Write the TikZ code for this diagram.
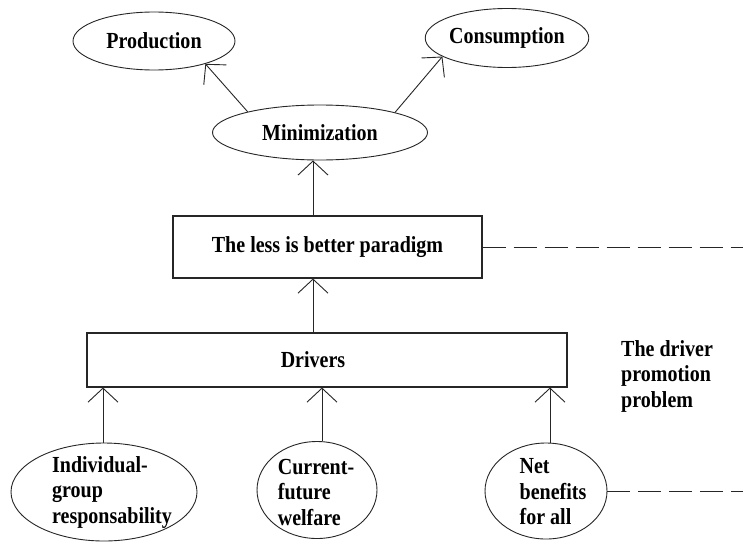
\documentclass[tikz,border=0pt]{standalone}
\usepackage{fontspec}
\setmainfont{Liberation Serif}[FakeStretch=0.87]
\usetikzlibrary{shapes.geometric,arrows.meta}
\begin{document}
\begin{tikzpicture}[x=1pt,y=-1pt,
  every node/.style={font=\fontsize{23}{25.5}\selectfont\bfseries, text=black},
  ell/.style={draw=black!85, line width=0.9pt, ellipse, inner sep=0pt},
  box/.style={draw=black!85, line width=1.1pt, rectangle, inner sep=0pt},
  arr/.style={draw=black!85, line width=0.9pt, -{Straight Barb[length=14pt,width=30pt]}},
  dsh/.style={draw=black!85, line width=1pt, dash pattern=on 23pt off 8pt},
  lbl/.style={align=left, inner sep=0pt}]
\useasboundingbox[fill=white] (0,0) rectangle (743,541);

\node[ell, minimum width=162pt, minimum height=58pt] (prod) at (154,41) {Production};
\node[ell, minimum width=151pt, minimum height=59pt] (cons) at (507,38) {Consumption};
\node[ell, minimum width=215pt, minimum height=55pt] (mini) at (320,132.5) {Minimization};
\node[box, minimum width=309pt, minimum height=62pt] (para) at (327.5,247) {The less is better paradigm};
\node[box, minimum width=480pt, minimum height=54pt] (drv) at (327,360) {};
\node (drvt) at (313,360) {Drivers};

\node[ell, minimum width=186pt, minimum height=98pt] (ind) at (104,492) {};
\node[lbl] (indt) at (112,492) {Individual-\\group\\responsability};
\node[ell, minimum width=120pt, minimum height=97pt] (cur) at (317,490) {};
\node[lbl] (curt) at (316,492) {Current-\\future\\welfare};
\node[ell, minimum width=122pt, minimum height=96pt] (net) at (546,491) {};
\node[lbl] (nett) at (553,492) {Net\\benefits\\for all};

\node[lbl, anchor=west] (prob) at (621,376) {The driver\\promotion\\problem};

\coordinate (xa) at (313,0);
\coordinate (xb) at (103,0);
\coordinate (xc) at (322,0);
\coordinate (xd) at (550,0);
\coordinate (e1) at (743,0);

\draw[arr] (mini.164) -- (prod.-24);
\draw[arr] (mini.15) -- (cons.196);
\draw[arr] (para.north -| xa) -- (mini.south -| xa);
\draw[arr] (drv.north -| xa) -- (para.south -| xa);
\draw[arr] (ind.north -| xb) -- (drv.south -| xb);
\draw[arr] (cur.north -| xc) -- (drv.south -| xc);
\draw[arr] (net.north -| xd) -- (drv.south -| xd);

\draw[dsh] (para.east) -- (para.east -| e1);
\draw[dsh] (net.east) -- (net.east -| e1);
\end{tikzpicture}
\end{document}
